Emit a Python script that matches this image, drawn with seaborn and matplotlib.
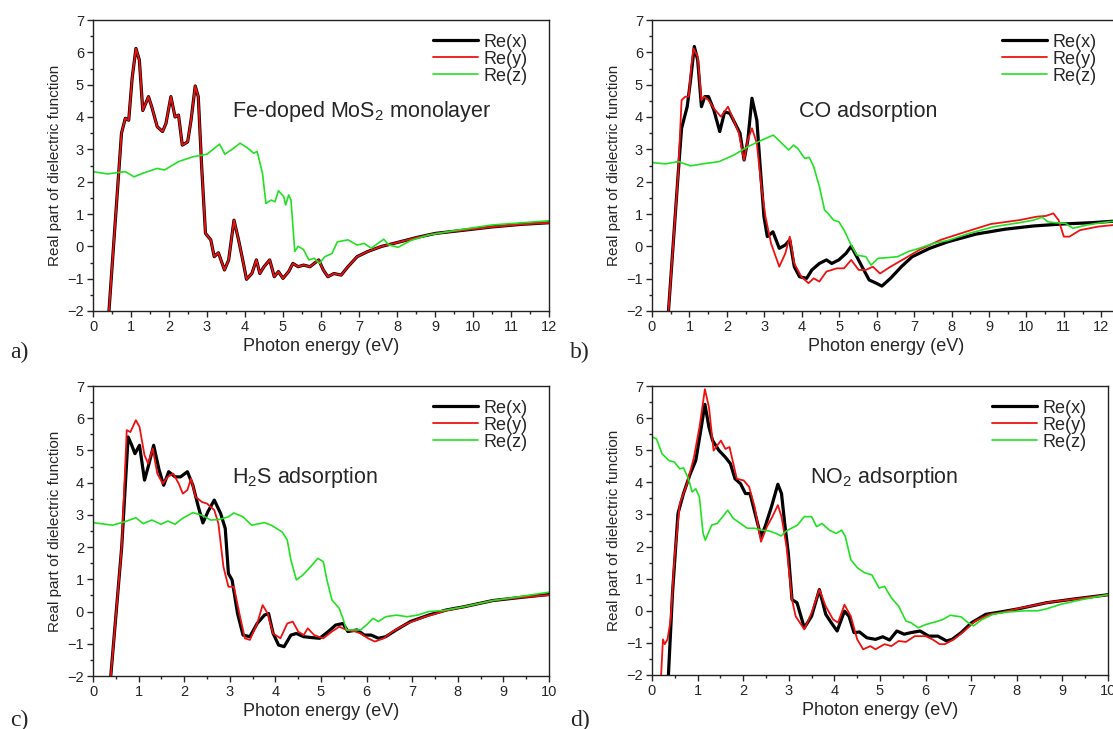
import pandas as pd
import matplotlib
matplotlib.use('Agg')
import matplotlib.pyplot as plt
import seaborn as sns
from matplotlib.ticker import MultipleLocator

# ---- panel a: Fe-doped MoS2 monolayer ----
a_xy_E = [0.42, 0.75, 0.85, 0.94, 1.03, 1.13, 1.22, 1.31, 1.46, 1.55, 1.69, 1.83, 1.92, 2.05, 2.16,
          2.25, 2.35, 2.49, 2.58, 2.69, 2.77, 2.86, 2.96, 3.1, 3.19, 3.3, 3.46, 3.57, 3.71, 3.83,
          3.94, 4.04, 4.18, 4.3, 4.39, 4.5, 4.65, 4.77, 4.88, 5.0, 5.15, 5.26, 5.4, 5.54, 5.71,
          5.82, 5.94, 6.06, 6.18, 6.34, 6.53, 6.71, 6.95, 7.23, 7.6, 7.98, 8.54, 9.01, 9.77, 10.5,
          11.27, 12.0]
a_x_val = [-2.0, 3.5, 3.96, 3.9, 5.2, 6.12, 5.76, 4.2, 4.63, 4.3, 3.7, 3.55, 3.8, 4.63, 4.0,
           4.06, 3.13, 3.23, 3.9, 4.96, 4.63, 2.46, 0.4, 0.2, -0.32, -0.2, -0.73, -0.42, 0.81, 0.2,
           -0.42, -1.02, -0.84, -0.42, -0.84, -0.63, -0.42, -0.94, -0.78, -0.99, -0.78, -0.53, -0.63, -0.58, -0.63,
           -0.53, -0.42, -0.73, -0.94, -0.84, -0.89, -0.63, -0.32, -0.16, 0.0, 0.11, 0.28, 0.4, 0.5, 0.6,
           0.68, 0.73]
a_y_val = list(a_x_val)
a_z_E = [0.0, 0.38, 0.85, 1.08, 1.31, 1.69, 1.88, 2.25, 2.63, 3.0, 3.33, 3.47, 3.66, 3.87, 4.08,
         4.23, 4.32, 4.46, 4.55, 4.69, 4.79, 4.88, 5.02, 5.07, 5.15, 5.21, 5.31, 5.4, 5.54, 5.68,
         5.82, 5.96, 6.1, 6.29, 6.43, 6.71, 6.95, 7.14, 7.32, 7.65, 7.79, 8.03, 8.36, 8.83, 9.58,
         10.5, 12.0]
a_z_val = [2.31, 2.24, 2.31, 2.15, 2.26, 2.41, 2.36, 2.62, 2.77, 2.85, 3.16, 2.85, 3.0, 3.19, 3.03,
           2.88, 2.93, 2.26, 1.33, 1.43, 1.38, 1.72, 1.54, 1.28, 1.59, 1.43, -0.16, 0.0, -0.1, -0.42,
           -0.37, -0.53, -0.32, -0.22, 0.14, 0.2, 0.04, 0.09, -0.06, 0.22, 0.04, -0.03, 0.18, 0.35, 0.5,
           0.66, 0.79]

# ---- panel b: CO adsorption ----
b_x_E = [0.44, 0.7, 0.79, 0.94, 1.03, 1.13, 1.22, 1.32, 1.41, 1.51, 1.65, 1.81, 1.94, 2.08, 2.22,
         2.35, 2.46, 2.56, 2.67, 2.8, 2.89, 2.99, 3.08, 3.23, 3.4, 3.56, 3.68, 3.8, 3.94, 4.13,
         4.27, 4.47, 4.66, 4.8, 4.99, 5.18, 5.32, 5.47, 5.61, 5.8, 5.99, 6.14, 6.37, 6.66, 6.95,
         7.42, 7.9, 8.66, 9.43, 10.19, 10.95, 11.72, 12.5]
b_x_val = [-2.0, 2.26, 3.65, 4.32, 5.14, 6.18, 5.76, 4.32, 4.63, 4.63, 4.22, 3.55, 4.16, 4.11, 3.8,
           3.5, 2.67, 3.29, 4.58, 3.9, 2.46, 0.92, 0.3, 0.45, -0.06, 0.04, 0.2, -0.63, -0.94, -0.99,
           -0.73, -0.53, -0.42, -0.53, -0.42, -0.22, 0.0, -0.32, -0.63, -1.04, -1.14, -1.23, -0.99, -0.63, -0.32,
           -0.06, 0.14, 0.38, 0.53, 0.63, 0.69, 0.73, 0.79]
b_y_E = [0.44, 0.7, 0.79, 0.89, 0.98, 1.05, 1.11, 1.22, 1.32, 1.39, 1.51, 1.65, 1.84, 2.03, 2.18,
         2.32, 2.46, 2.56, 2.67, 2.8, 2.92, 3.03, 3.18, 3.4, 3.56, 3.68, 3.8, 3.99, 4.18, 4.32,
         4.47, 4.66, 4.94, 5.13, 5.32, 5.52, 5.71, 5.9, 6.09, 6.37, 6.76, 7.14, 7.71, 8.38, 9.05,
         9.81, 10.29, 10.52, 10.72, 10.86, 11.0, 11.15, 11.43, 11.91, 12.5]
b_y_val = [-2.0, 2.26, 4.52, 4.63, 4.63, 5.56, 6.12, 5.87, 4.52, 4.63, 4.52, 4.27, 4.01, 4.32, 3.9,
           3.5, 2.67, 3.29, 3.65, 3.19, 1.85, 0.92, 0.09, -0.63, -0.22, 0.3, -0.53, -0.94, -1.14, -0.99,
           -1.09, -0.78, -0.68, -0.68, -0.42, -0.73, -0.73, -0.63, -0.84, -0.63, -0.37, -0.11, 0.2, 0.45, 0.69,
           0.81, 0.92, 0.94, 1.02, 0.81, 0.3, 0.3, 0.5, 0.61, 0.68]
b_z_E = [0.0, 0.36, 0.7, 1.03, 1.41, 1.79, 2.18, 2.56, 2.94, 3.24, 3.42, 3.65, 3.78, 3.89, 4.08,
         4.2, 4.32, 4.47, 4.61, 4.7, 4.85, 4.99, 5.13, 5.32, 5.47, 5.71, 5.85, 6.04, 6.28, 6.56,
         6.85, 7.14, 7.52, 7.9, 8.47, 9.14, 9.81, 10.19, 10.42, 10.57, 10.76, 11.05, 11.24, 11.62, 12.0,
         12.5]
b_z_val = [2.59, 2.55, 2.62, 2.49, 2.56, 2.62, 2.82, 3.08, 3.29, 3.44, 3.24, 2.98, 3.13, 3.03, 2.72,
           2.75, 2.46, 1.85, 1.12, 1.02, 0.81, 0.76, 0.5, 0.04, -0.27, -0.32, -0.58, -0.37, -0.35, -0.32,
           -0.16, -0.06, 0.09, 0.18, 0.4, 0.61, 0.73, 0.81, 0.9, 0.76, 0.73, 0.71, 0.56, 0.66, 0.73,
           0.8]

# ---- panel c: H2S adsorption ----
c_x_E = [0.39, 0.63, 0.77, 0.85, 0.92, 1.02, 1.13, 1.21, 1.33, 1.45, 1.55, 1.66, 1.8, 1.92, 2.07,
         2.19, 2.31, 2.41, 2.52, 2.66, 2.8, 2.9, 2.97, 3.05, 3.17, 3.29, 3.44, 3.6, 3.76, 3.85,
         3.95, 4.07, 4.19, 4.34, 4.46, 4.62, 4.81, 4.97, 5.16, 5.32, 5.48, 5.59, 5.79, 5.95, 6.1,
         6.26, 6.42, 6.65, 6.96, 7.36, 7.75, 8.14, 8.76, 9.39, 10.0]
c_x_val = [-2.0, 2.01, 5.42, 5.16, 4.9, 5.16, 4.08, 4.49, 5.16, 4.39, 3.92, 4.34, 4.18, 4.18, 4.34,
           3.92, 3.25, 2.75, 3.1, 3.46, 3.04, 2.58, 1.18, 0.98, -0.06, -0.73, -0.78, -0.37, -0.11, -0.06,
           -0.68, -1.04, -1.09, -0.73, -0.68, -0.78, -0.81, -0.83, -0.62, -0.42, -0.37, -0.62, -0.57, -0.73, -0.73,
           -0.83, -0.78, -0.57, -0.31, -0.11, 0.05, 0.15, 0.34, 0.44, 0.53]
c_y_E = [0.39, 0.63, 0.74, 0.82, 0.94, 1.02, 1.13, 1.21, 1.31, 1.41, 1.53, 1.64, 1.76, 1.88, 1.97,
         2.07, 2.15, 2.25, 2.39, 2.5, 2.66, 2.75, 2.86, 2.97, 3.09, 3.21, 3.33, 3.44, 3.6, 3.72,
         3.83, 3.95, 4.11, 4.26, 4.38, 4.5, 4.62, 4.71, 4.85, 5.05, 5.24, 5.4, 5.56, 5.75, 5.87,
         6.03, 6.18, 6.38, 6.57, 6.89, 7.28, 7.75, 8.14, 8.76, 9.39, 10.0]
c_y_val = [-2.0, 2.01, 5.63, 5.57, 5.94, 5.73, 4.85, 4.59, 5.06, 4.28, 3.97, 4.18, 4.28, 3.97, 3.66,
           3.77, 4.13, 3.56, 3.4, 3.35, 3.15, 2.73, 1.39, 0.77, 0.77, -0.06, -0.83, -0.88, -0.37, 0.2,
           -0.06, -0.68, -0.83, -0.37, -0.31, -0.62, -0.73, -0.52, -0.73, -0.83, -0.62, -0.47, -0.57, -0.62, -0.68,
           -0.83, -0.93, -0.83, -0.62, -0.37, -0.16, 0.03, 0.15, 0.34, 0.44, 0.51]
c_z_E = [0.0, 0.43, 0.7, 0.94, 1.1, 1.29, 1.49, 1.64, 1.8, 1.96, 2.19, 2.39, 2.58, 2.78, 2.97,
         3.09, 3.29, 3.48, 3.76, 3.91, 4.15, 4.26, 4.34, 4.46, 4.6, 4.77, 4.93, 5.05, 5.13, 5.24,
         5.4, 5.48, 5.56, 5.71, 5.87, 6.03, 6.14, 6.26, 6.42, 6.65, 6.89, 7.12, 7.36, 7.67, 8.14,
         8.76, 9.39, 10.0]
c_z_val = [2.76, 2.68, 2.79, 2.91, 2.73, 2.84, 2.71, 2.81, 2.71, 2.89, 3.07, 2.99, 2.84, 2.86, 2.94,
           3.06, 2.94, 2.68, 2.76, 2.68, 2.47, 2.22, 1.6, 0.98, 1.13, 1.39, 1.65, 1.55, 0.98, 0.36,
           0.1, -0.21, -0.57, -0.57, -0.57, -0.37, -0.21, -0.31, -0.16, -0.11, -0.16, -0.11, 0.0, 0.03, 0.15,
           0.34, 0.47, 0.6]

# ---- panel d: NO2 adsorption ----
d_x_E = [0.36, 0.45, 0.57, 0.69, 0.84, 0.96, 1.08, 1.16, 1.25, 1.33, 1.47, 1.61, 1.72, 1.82, 1.94,
         2.05, 2.15, 2.26, 2.39, 2.48, 2.62, 2.76, 2.84, 2.91, 2.99, 3.07, 3.18, 3.34, 3.5, 3.67,
         3.81, 3.93, 4.06, 4.22, 4.32, 4.43, 4.55, 4.71, 4.9, 5.06, 5.21, 5.37, 5.53, 5.68, 5.88,
         6.07, 6.27, 6.46, 6.58, 6.78, 7.01, 7.32, 7.63, 8.03, 8.65, 9.27, 10.0]
d_x_val = [-2.0, 0.56, 3.03, 3.65, 4.27, 4.68, 5.71, 6.43, 5.71, 5.3, 4.99, 4.78, 4.58, 4.11, 3.96,
           3.65, 3.65, 3.03, 2.31, 2.62, 3.24, 3.94, 3.65, 2.72, 1.79, 0.35, 0.25, -0.53, -0.17, 0.66,
           -0.11, -0.37, -0.63, -0.01, -0.17, -0.68, -0.66, -0.84, -0.89, -0.81, -0.91, -0.63, -0.73, -0.68, -0.63,
           -0.79, -0.79, -0.94, -0.89, -0.68, -0.37, -0.11, -0.04, 0.06, 0.25, 0.37, 0.5]
d_y_E = [0.2, 0.24, 0.28, 0.34, 0.41, 0.49, 0.61, 0.77, 0.92, 1.04, 1.16, 1.25, 1.35, 1.51, 1.61,
         1.7, 1.86, 2.01, 2.13, 2.25, 2.39, 2.52, 2.64, 2.76, 2.84, 2.95, 3.07, 3.15, 3.34, 3.5,
         3.67, 3.81, 3.97, 4.08, 4.22, 4.36, 4.5, 4.63, 4.79, 4.9, 5.1, 5.25, 5.41, 5.57, 5.76,
         6.0, 6.15, 6.31, 6.42, 6.62, 6.85, 7.09, 7.4, 7.71, 8.1, 8.73, 9.35, 10.0]
d_y_val = [-2.0, -0.89, -1.04, -0.89, -0.27, 1.59, 3.34, 3.96, 4.78, 5.71, 6.9, 6.33, 4.99, 5.3, 5.04,
           5.1, 4.11, 4.06, 3.86, 3.24, 2.15, 2.62, 2.93, 3.29, 2.93, 2.0, 0.35, -0.17, -0.58, -0.06,
           0.66, 0.14, -0.27, -0.37, 0.19, -0.17, -0.89, -1.2, -1.1, -1.2, -1.04, -1.1, -0.94, -0.97, -0.79,
           -0.79, -0.89, -1.04, -1.04, -0.89, -0.63, -0.32, -0.11, -0.04, 0.09, 0.27, 0.38, 0.5]
d_z_E = [0.0, 0.1, 0.22, 0.37, 0.49, 0.61, 0.69, 0.8, 0.88, 0.96, 1.04, 1.12, 1.17, 1.31, 1.43,
         1.55, 1.66, 1.78, 1.94, 2.09, 2.25, 2.4, 2.56, 2.72, 2.83, 2.95, 3.19, 3.34, 3.5, 3.61,
         3.73, 3.89, 4.04, 4.16, 4.24, 4.36, 4.51, 4.67, 4.82, 4.98, 5.1, 5.25, 5.41, 5.57, 5.68,
         5.84, 6.0, 6.23, 6.38, 6.54, 6.78, 6.93, 7.05, 7.24, 7.48, 7.79, 8.18, 8.46, 8.65, 8.96,
         9.43, 10.0]
d_z_val = [5.42, 5.35, 4.89, 4.68, 4.63, 4.42, 4.45, 4.11, 3.7, 3.8, 3.54, 2.41, 2.2, 2.67, 2.72,
           2.93, 3.13, 2.88, 2.72, 2.57, 2.57, 2.51, 2.49, 2.41, 2.33, 2.49, 2.67, 2.93, 2.93, 2.62,
           2.72, 2.51, 2.41, 2.51, 2.31, 1.59, 1.33, 1.18, 1.12, 0.71, 0.76, 0.4, 0.14, -0.32, -0.37,
           -0.53, -0.43, -0.34, -0.27, -0.14, -0.19, -0.37, -0.47, -0.27, -0.11, -0.04, 0.0, 0.0, 0.06, 0.2,
           0.35, 0.5]

panels = [
    ('a)', 'Fe-doped MoS$_2$ monolayer', (a_xy_E, a_x_val), (a_xy_E, a_y_val), (a_z_E, a_z_val), 12.0),
    ('b)', 'CO adsorption', (b_x_E, b_x_val), (b_y_E, b_y_val), (b_z_E, b_z_val), 12.5),
    ('c)', 'H$_2$S adsorption', (c_x_E, c_x_val), (c_y_E, c_y_val), (c_z_E, c_z_val), 10.0),
    ('d)', 'NO$_2$ adsorption', (d_x_E, d_x_val), (d_y_E, d_y_val), (d_z_E, d_z_val), 10.0),
]

sns.set_style('ticks')
plt.rcParams['font.family'] = ['Liberation Sans', 'DejaVu Sans']
plt.rcParams['mathtext.fontset'] = 'custom'
plt.rcParams['mathtext.rm'] = 'Liberation Sans'
plt.rcParams['mathtext.it'] = 'Liberation Sans'

W, H = 1113, 729
fig = plt.figure(figsize=(W / 100, H / 100), dpi=100)

# axes boxes in pixels: left, top, width, height
boxes = [(93, 20, 456, 291), (652, 20, 468, 291), (93, 386, 456, 290), (652, 386, 456, 289)]
text_pos = [(362, 111, 'center'), (868, 111, 'center'), (232, 477, 'left'), (810, 477, 'left')]
letter_pos = [(10, 352), (570, 352), (10, 720), (570, 720)]
# legend right edge offset (px) from the axes' right spine
legend_shift = [0, 2, 0, 0]

styles = [('Re(x)', 'black', 2.3), ('Re(y)', '#ee1111', 1.3), ('Re(z)', '#22e022', 1.2)]

for (letter, label, sx, sy, sz, xmax), (l, t, w, h), tp, lp, ls in zip(panels, boxes, text_pos,
                                                                        letter_pos, legend_shift):
    ax = fig.add_axes([l / W, 1 - (t + h) / H, w / W, h / H])
    for (name, col, lw), (E, v) in zip(styles, [sx, sy, sz]):
        df = pd.DataFrame({'E': E, 'v': v})
        sns.lineplot(data=df, x='E', y='v', ax=ax, color=col, linewidth=lw,
                     sort=False, estimator=None, label=name)
    ax.set_xlim(0, xmax)
    ax.set_ylim(-2, 7)
    ax.xaxis.set_major_locator(MultipleLocator(1))
    ax.xaxis.set_minor_locator(MultipleLocator(0.5))
    ax.yaxis.set_major_locator(MultipleLocator(1))
    ax.yaxis.set_minor_locator(MultipleLocator(0.5))
    ax.tick_params(which='major', direction='out', length=4.5, width=1, labelsize=10.5, pad=2)
    ax.tick_params(which='minor', direction='out', length=2.5, width=1)
    for sp in ax.spines.values():
        sp.set_visible(True)
        sp.set_linewidth(1)
        sp.set_color('#222222')
    ax.set_xlabel('Photon energy (eV)', fontsize=13, labelpad=3)
    ax.set_ylabel('Real part of dielectric function', fontsize=11, labelpad=4)
    ax.legend(loc='upper right', frameon=False, fontsize=13, handlelength=2.5,
              handletextpad=0.3, labelspacing=0.0, borderaxespad=0.8,
              bbox_to_anchor=(1 - ls / w, 1 + 8 / h))
    fig.text(tp[0] / W, 1 - tp[1] / H, label, fontsize=15.5, ha=tp[2], va='center')
    fig.text(lp[0] / W, 1 - lp[1] / H, letter, fontsize=17, family='Liberation Serif',
             ha='left', va='center')

fig.savefig('out.png', dpi=100)
